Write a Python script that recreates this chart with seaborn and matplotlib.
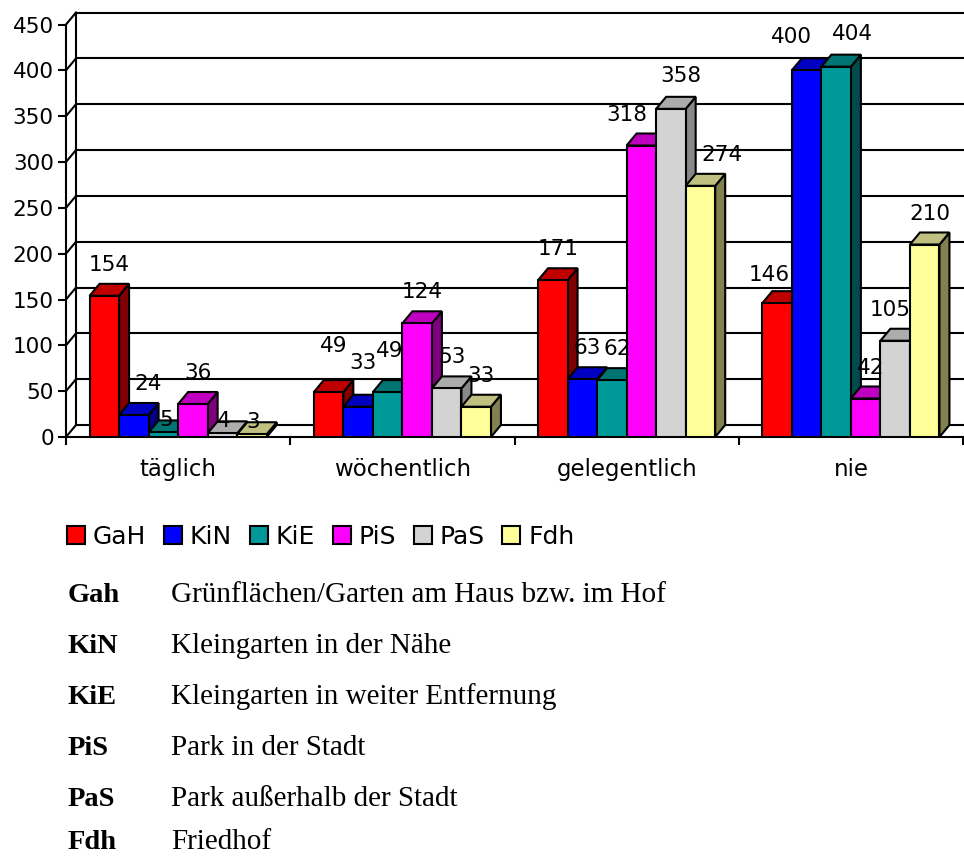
import matplotlib.pyplot as plt
from matplotlib.patches import Polygon, Patch
import pandas as pd
import seaborn as sns

categories = ['täglich', 'wöchentlich', 'gelegentlich', 'nie']
series = ['GaH', 'KiN', 'KiE', 'PiS', 'PaS', 'Fdh']
gah = [154, 49, 171, 146]
kin = [24, 33, 63, 400]
kie = [5, 49, 62, 404]
pis = [36, 124, 318, 42]
pas = [4, 53, 358, 105]
fdh = [3, 33, 274, 210]
y_ticks = [0, 50, 100, 150, 200, 250, 300, 350, 400, 450]

abbreviations = ['Gah', 'KiN', 'KiE', 'PiS', 'PaS', 'Fdh']
descriptions = ['Grünflächen/Garten am Haus bzw. im Hof',
                'Kleingarten in der Nähe',
                'Kleingarten in weiter Entfernung',
                'Park in der Stadt',
                'Park außerhalb der Stadt',
                'Friedhof']

front_colors = ['#ff0000', '#0000ff', '#009999', '#ff00ff', '#d3d3d3', '#ffff99']
top_colors = ['#c00000', '#0000c0', '#007373', '#c000c0', '#acacac', '#c0c080']
side_colors = ['#800000', '#000080', '#004c4c', '#800080', '#888888', '#808050']

# label nudges in pixels (x, y), like excel moves them apart
label_nudge = {
    ('täglich', 'KiN'): (9, 0),
    ('täglich', 'KiE'): (-2, -19),
    ('täglich', 'PaS'): (-4, -19),
    ('täglich', 'Fdh'): (-4, -19),
    ('wöchentlich', 'GaH'): (0, 15),
    ('wöchentlich', 'KiN'): (0, 13),
    ('wöchentlich', 'KiE'): (-3, 10),
    ('gelegentlich', 'PiS'): (-20, 0),
    ('gelegentlich', 'PaS'): (5, 2),
    ('gelegentlich', 'Fdh'): (17, 0),
    ('nie', 'GaH'): (-13, -3),
    ('nie', 'KiN'): (-20, 2),
    ('nie', 'KiE'): (11, 2),
    ('nie', 'PaS'): (-10, 0),
}

# baselines of the explanation rows (pixels from top)
row_baselines = [602, 653, 704, 755, 806, 849]

rows = []
for name, values in zip(series, [gah, kin, kie, pis, pas, fdh]):
    for cat, val in zip(categories, values):
        rows.append({'Häufigkeit': cat, 'Ort': name, 'Anzahl': val})
df = pd.DataFrame(rows)

W, H = 964, 856
fig = plt.figure(figsize=(W / 100, H / 100), dpi=100)
# front plane of the 3d chart, in pixels: x 66..963, y 437 (0) .. 24.5 (450)
ax = fig.add_axes([66 / W, (H - 437) / H, 897 / W, 412.5 / H])

sns.barplot(data=df, x='Häufigkeit', y='Anzahl', hue='Ort', order=categories, hue_order=series,
            palette=front_colors, saturation=1, width=0.79, edgecolor='black', linewidth=1.5,
            errorbar=None, legend=False, ax=ax)
ax.set_xlim(-0.5, 3.5)
ax.set_ylim(0, 450)

# pixel -> data units
px_x = 4 / 897
px_y = 450 / 412.5
# depth of walls and bars, 10 px right and 12 px up
dx = 10 * px_x
dy = 12 * px_y
lw = 1.5

line_kw = dict(color='black', lw=lw, clip_on=False, zorder=1, solid_capstyle='projecting')
for t in y_ticks:
    ax.plot([-0.5 + dx, 3.6], [t + dy, t + dy], **line_kw)
    ax.plot([-0.5, -0.5 + dx], [t, t + dy], **line_kw)
ax.plot([-0.5 + dx, -0.5 + dx], [dy, 450 + dy], **line_kw)

for i, bars in enumerate(ax.containers):
    for j, bar in enumerate(bars):
        x0 = bar.get_x()
        w = bar.get_width()
        h = bar.get_height()
        x1 = x0 + w
        side = Polygon([(x1, 0), (x1 + dx, dy), (x1 + dx, h + dy), (x1, h)], closed=True,
                       fc=side_colors[i], ec='black', lw=lw, zorder=2 + 3 * i, joinstyle='miter')
        top = Polygon([(x0, h), (x1, h), (x1 + dx, h + dy), (x0 + dx, h + dy)], closed=True,
                      fc=top_colors[i], ec='black', lw=lw, zorder=3 + 3 * i, joinstyle='miter')
        ax.add_patch(side)
        ax.add_patch(top)
        bar.set_zorder(4 + 3 * i)
        nx, ny = label_nudge.get((categories[j], series[i]), (0, 0))
        ax.text(x0 + w / 2 + dx / 2 + nx * px_x, h + dy + (13 + ny) * px_y, f'{h:.0f}',
                ha='center', va='baseline', fontsize=15.5, zorder=40, clip_on=False)

for side in ['top', 'right']:
    ax.spines[side].set_visible(False)
for side in ['left', 'bottom']:
    ax.spines[side].set_linewidth(lw)
    ax.spines[side].set_zorder(1)

ax.set_yticks(y_ticks)
ax.tick_params(axis='y', length=5.8, width=lw, labelsize=15.5, pad=3)
ax.set_xticks(range(len(categories)))
ax.set_xticklabels(categories)
ax.set_xticks([-0.5, 0.5, 1.5, 2.5, 3.5], minor=True)
ax.tick_params(axis='x', which='major', length=0, labelsize=16.5, pad=15)
ax.tick_params(axis='x', which='minor', length=5.8, width=lw)
ax.set_xlabel('')
ax.set_ylabel('')
ax.set_facecolor('none')

handles = [Patch(facecolor=c, edgecolor='black', lw=lw, label=s) for s, c in zip(series, front_colors)]
fig.legend(handles=handles, loc='center left', bbox_to_anchor=(67 / W, 1 - 537 / H), ncol=6,
           frameon=False, fontsize=18, handlelength=0.72, handleheight=0.72, handletextpad=0.32,
           columnspacing=0.7, borderpad=0, borderaxespad=0)

for ab, desc, base in zip(abbreviations, descriptions, row_baselines):
    y = 1 - base / H
    fig.text(68 / W, y, ab, fontsize=20.5, fontweight='bold', family='Liberation Serif', va='baseline')
    fig.text(171 / W, y, desc, fontsize=21, family='Liberation Serif', va='baseline')

fig.savefig('out.png', dpi=100)
